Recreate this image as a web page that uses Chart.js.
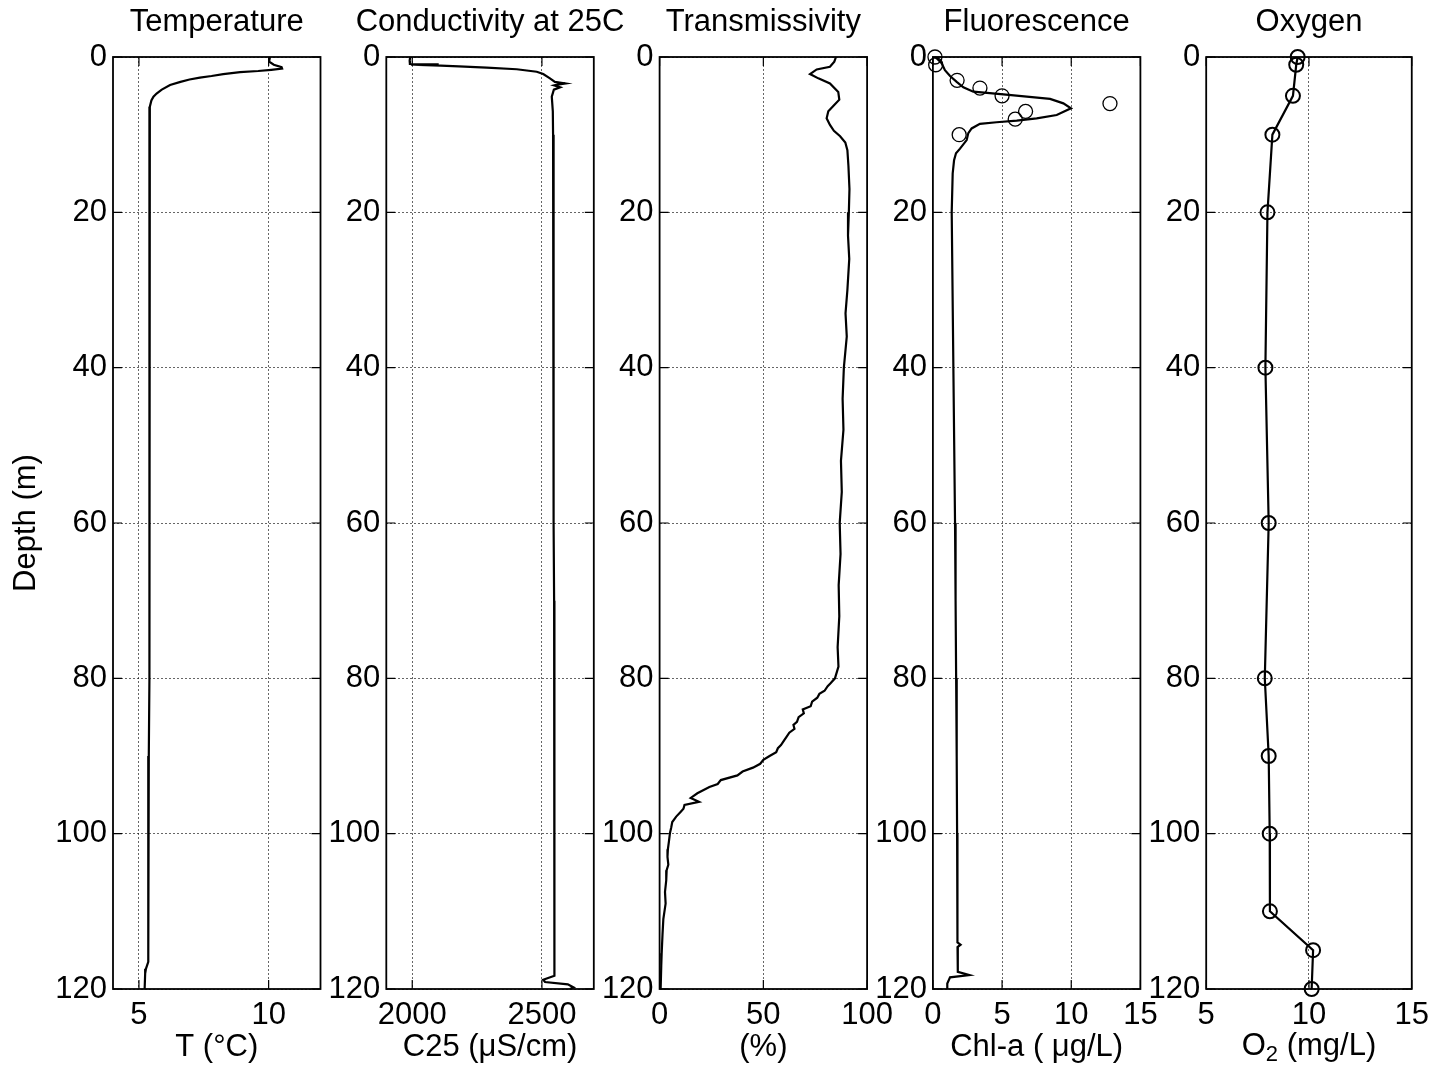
<!DOCTYPE html>
<html>
<head>
<meta charset="utf-8">
<title>CTD profiles</title>
<script src="https://cdn.jsdelivr.net/npm/chart.js@4.4.0/dist/chart.umd.min.js"></script>
<style>
    body { margin: 0; background: #fff; }
    #wrap { position: relative; width: 1437px; height: 1066px; overflow: hidden; }
    #wrap canvas { position: absolute; top: 0; }
</style>
</head>
<body>
<div id="wrap"></div>
<script>
// Depth axis shared by every panel (m, increasing downwards)
const depthTicks = [0, 20, 40, 60, 80, 100, 120];

// Temperature (°C)
const tempDepth = [0, 0.6, 1.0, 1.3, 1.5, 1.65, 1.8, 1.95, 2.2, 2.45, 2.65, 2.9, 3.2, 3.6, 4.2, 4.7, 5.1, 5.6, 6.4, 8, 12, 20, 30, 40, 50, 60, 70, 80, 90, 100, 108, 116.5, 117.4, 118, 120];
const tempValue = [10.05, 10.02, 10.2, 10.5, 10.52, 10.1, 9.6, 8.9, 8.25, 7.8, 7.35, 6.95, 6.6, 6.2, 5.88, 5.68, 5.56, 5.48, 5.42, 5.40, 5.40, 5.41, 5.42, 5.41, 5.41, 5.40, 5.40, 5.39, 5.38, 5.37, 5.36, 5.35, 5.27, 5.24, 5.22];

// Conductivity at 25C (uS/cm)
const condDepth = [0, 0.5, 0.9, 0.95, 1.0, 1.1, 1.2, 1.37, 1.58, 1.9, 2.2, 2.75, 3.2, 3.4, 3.55, 3.65, 3.9, 4.2, 5.1, 7, 10, 20, 30, 40, 50, 60, 70, 80, 90, 100, 110, 118.3, 118.8, 119.1, 119.4, 119.8, 120];
const condValue = [1992, 1990, 1991, 2102, 1995, 2110, 2180, 2287, 2403, 2480, 2505, 2531, 2550, 2590, 2560, 2547, 2570, 2546, 2538, 2542, 2543, 2545, 2545, 2544, 2545, 2546, 2547, 2547, 2548, 2548, 2549, 2549, 2505, 2512, 2600, 2622, 2608];

// Transmissivity (%)
const transDepth = [0, 0.6, 1.25, 1.6, 2.2, 2.75, 3.4, 4.5, 5.5, 6.3, 7.0, 7.9, 8.75, 9.5, 10.2, 11, 12, 14, 17, 20, 23, 26, 30, 33, 36, 40, 44, 48, 52, 56, 60, 64, 68, 72, 76, 78.5, 80, 80.6, 81, 81.6, 82, 82.5, 83, 83.6, 84, 84.5, 85, 85.6, 86, 86.5, 87, 87.6, 88, 88.6, 89, 89.5, 90, 90.5, 91, 91.5, 92, 92.5, 93.1, 93.6, 94, 94.8, 95.4, 95.9, 96.3, 96.8, 97.2, 97.8, 98.5, 99.2, 99.9, 101, 102, 103, 104, 104.7, 106, 107.5, 109, 111, 113, 115.4, 117, 120];
const transValue = [85, 84.2, 82.1, 75.7, 72.5, 76.5, 82.1, 86.1, 86.6, 83.7, 81.3, 80.5, 82.1, 84, 87, 89.5, 90.5, 91, 91.5, 91.2, 90.8, 91.4, 90.5, 89.6, 90.2, 88.8, 88.2, 88.6, 87.4, 87.8, 86.8, 87.2, 86.3, 86.6, 85.8, 86.2, 84.5, 82.5, 81, 79.5, 77, 76, 73.5, 72.8, 69, 69.5, 67, 66.2, 64.5, 65, 62.5, 61, 60, 58.5, 57, 56.2, 53, 50, 48.5, 45, 40, 37.5, 29.5, 28, 24, 18.2, 15, 19, 12, 11.5, 10.1, 8, 6.1, 5.6, 5, 4.5, 4, 3.8, 4.2, 3.4, 3.2, 2.6, 2.9, 1.8, 1.4, 1.0, 0.8, 0.5];

// Fluorescence, CTD trace (Chl-a ug/L)
const fluorDepth = [0, 0.17, 0.8, 1.7, 2.45, 3.2, 3.9, 4.46, 4.8, 5.4, 5.97, 6.6, 7.47, 7.9, 8.2, 8.4, 8.6, 9.2, 9.8, 10.7, 11.8, 12.4, 13.3, 15, 20, 30, 40, 50, 60, 70, 80, 90, 100, 110, 114, 114.3, 114.6, 117.8, 118.2, 118.5, 119.3, 120];
const fluorValue = [0.15, 0.27, 0.63, 0.87, 1.24, 1.72, 2.2, 2.92, 5.1, 8.47, 9.43, 9.98, 8.95, 7.5, 6.06, 4.6, 3.4, 2.8, 2.56, 2.44, 1.96, 1.67, 1.53, 1.43, 1.36, 1.42, 1.48, 1.54, 1.6, 1.64, 1.68, 1.72, 1.75, 1.77, 1.78, 2.0, 1.78, 1.8, 2.63, 1.24, 1.04, 1.04];

// Fluorescence, bottle samples
const chlDepth = [0, 1, 3, 4, 5, 6, 7, 8, 10];
const chlValue = [0.15, 0.2, 1.75, 3.4, 5.0, 12.8, 6.7, 5.95, 1.9];

// Dissolved oxygen, bottle samples (mg/L)
const oxyDepth = [0, 1, 5, 10, 20, 40, 60, 80, 90, 100, 110, 115, 120];
const oxyValue = [9.45, 9.38, 9.22, 8.22, 7.98, 7.88, 8.04, 7.85, 8.04, 8.09, 8.1, 10.2, 10.13];

// Panel labels and x axes
const panelTitles = ['Temperature', 'Conductivity at 25C', 'Transmissivity', 'Fluorescence', 'Oxygen'];
const xAxisLabels = ['T (°C)', 'C25 (μS/cm)', '(%)', 'Chl-a ( μg/L)', ''];
const xTickValues = [[5, 10], [2000, 2500], [0, 50, 100], [0, 5, 10, 15], [5, 10, 15]];
const xLimits = [[4, 12], [1900, 2700], [0, 100], [0, 15], [5, 15]];

// layout of the five axes boxes
const PANEL_LEFT = 113, PANEL_STEP = 273.3, PANEL_W = 207.5;
const PAGE_W = 1437, PAGE_H = 1066, TOP = 57, AXIS_H = 77, TICK_LEN = 9;
const FONT = "'Liberation Sans', Arial, Helvetica, sans-serif";
const FONT_SIZE = 31;

Chart.defaults.color = '#000';
Chart.defaults.font.family = FONT;
Chart.defaults.font.size = FONT_SIZE;

function toPoints(depths, values) {
    return depths.map((d, k) => ({ x: values[k], y: d }));
}

const profiles = [
    [{ data: toPoints(tempDepth, tempValue) }],
    [{ data: toPoints(condDepth, condValue) }],
    [{ data: toPoints(transDepth, transValue) }],
    [{ data: toPoints(fluorDepth, fluorValue) },
     { data: toPoints(chlDepth, chlValue), showLine: false, pointRadius: 7, pointBorderWidth: 1.3 }],
    [{ data: toPoints(oxyDepth, oxyValue), pointRadius: 7, pointBorderWidth: 2 }]
];

// box around the axes, MATLAB-style inward tick marks and the panel title
const axesBox = {
    id: 'axesBox',
    afterDraw(chart, args, opts) {
        const { ctx, chartArea: a, scales } = chart;
        ctx.save();
        ctx.strokeStyle = '#000';
        ctx.lineWidth = 1.2;
        ctx.beginPath();
        scales.y.ticks.forEach(t => {
            const py = scales.y.getPixelForValue(t.value);
            ctx.moveTo(a.left, py); ctx.lineTo(a.left + TICK_LEN, py);
            ctx.moveTo(a.right, py); ctx.lineTo(a.right - TICK_LEN, py);
        });
        scales.x.ticks.forEach(t => {
            const px = scales.x.getPixelForValue(t.value);
            ctx.moveTo(px, a.bottom); ctx.lineTo(px, a.bottom - TICK_LEN);
            ctx.moveTo(px, a.top); ctx.lineTo(px, a.top + TICK_LEN);
        });
        ctx.stroke();
        ctx.lineWidth = 1.8;
        ctx.strokeRect(a.left, a.top, a.right - a.left, a.bottom - a.top);

        // title may be wider than the box, so no maxWidth here
        ctx.fillStyle = '#000';
        ctx.font = FONT_SIZE + 'px ' + FONT;
        ctx.textAlign = 'center';
        ctx.textBaseline = 'middle';
        ctx.fillText(opts.text, (a.left + a.right) / 2, 22);
        ctx.restore();
    }
};

// O2 label needs a real subscript
const oxygenLabel = {
    id: 'oxygenLabel',
    afterDraw(chart) {
        if (chart.options.plugins.oxygenLabel === false) return;
        const { ctx, chartArea: a } = chart;
        const big = FONT_SIZE + 'px ' + FONT, small = Math.round(FONT_SIZE * 0.72) + 'px ' + FONT;
        const parts = [['O', big, 0], ['2', small, 9], [' (mg/L)', big, 0]];
        ctx.save();
        ctx.fillStyle = '#000';
        ctx.textBaseline = 'middle';
        let total = 0;
        parts.forEach(p => { ctx.font = p[1]; total += ctx.measureText(p[0]).width; });
        let x = (a.left + a.right) / 2 - total / 2;
        parts.forEach(p => {
            ctx.font = p[1];
            ctx.fillText(p[0], x, 1046 + p[2]);
            x += ctx.measureText(p[0]).width;
        });
        ctx.restore();
    }
};

const wrap = document.getElementById('wrap');

profiles.forEach((sets, i) => {
    const plotLeft = PANEL_LEFT + i * PANEL_STEP;
    const canvasLeft = i === 0 ? 0 : Math.round(plotLeft - 75);
    const yAxisW = plotLeft - canvasLeft;
    const canvasW = Math.min(Math.ceil(yAxisW + PANEL_W + 50), PAGE_W - canvasLeft);
    const rightPad = canvasW - yAxisW - PANEL_W;

    const canvas = document.createElement('canvas');
    canvas.width = canvasW;
    canvas.height = PAGE_H;
    canvas.style.left = canvasLeft + 'px';
    wrap.appendChild(canvas);

    const datasets = sets.map(s => Object.assign({
        borderColor: '#000',
        backgroundColor: 'rgba(0,0,0,0)',
        pointBorderColor: '#000',
        borderWidth: 2.2,
        pointRadius: 0,
        showLine: true,
        tension: 0,
        clip: false
    }, s));

    new Chart(canvas.getContext('2d'), {
        type: 'scatter',
        data: { datasets: datasets },
        plugins: [axesBox, oxygenLabel],
        options: {
            responsive: false,
            animation: false,
            events: [],
            layout: { padding: { top: TOP, right: rightPad, bottom: 0, left: 0 } },
            plugins: {
                legend: { display: false },
                tooltip: { enabled: false },
                title: { display: false },
                axesBox: { text: panelTitles[i] },
                oxygenLabel: i === 4 ? {} : false
            },
            scales: {
                x: {
                    type: 'linear',
                    min: xLimits[i][0],
                    max: xLimits[i][1],
                    afterBuildTicks: s => { s.ticks = xTickValues[i].map(v => ({ value: v })); },
                    afterFit: s => { s.height = AXIS_H; },
                    ticks: { padding: 8, maxRotation: 0, autoSkip: false, callback: v => String(v) },
                    grid: { color: 'rgba(0,0,0,0.6)', lineWidth: 1, drawTicks: false },
                    border: { display: false, dash: [2, 2] },
                    title: {
                        display: xAxisLabels[i] !== '',
                        text: xAxisLabels[i],
                        padding: { top: 2, bottom: 0 }
                    }
                },
                y: {
                    type: 'linear',
                    reverse: true,
                    min: 0,
                    max: 120,
                    afterBuildTicks: s => { s.ticks = depthTicks.map(v => ({ value: v })); },
                    afterFit: s => { s.width = yAxisW; },
                    ticks: { padding: 6, callback: v => String(v) },
                    grid: { color: 'rgba(0,0,0,0.6)', lineWidth: 1, drawTicks: false },
                    border: { display: false, dash: [2, 2] },
                    title: {
                        display: i === 0,
                        text: 'Depth (m)',
                        padding: { top: 8, bottom: 0 }
                    }
                }
            }
        }
    });
});
</script>
</body>
</html>
